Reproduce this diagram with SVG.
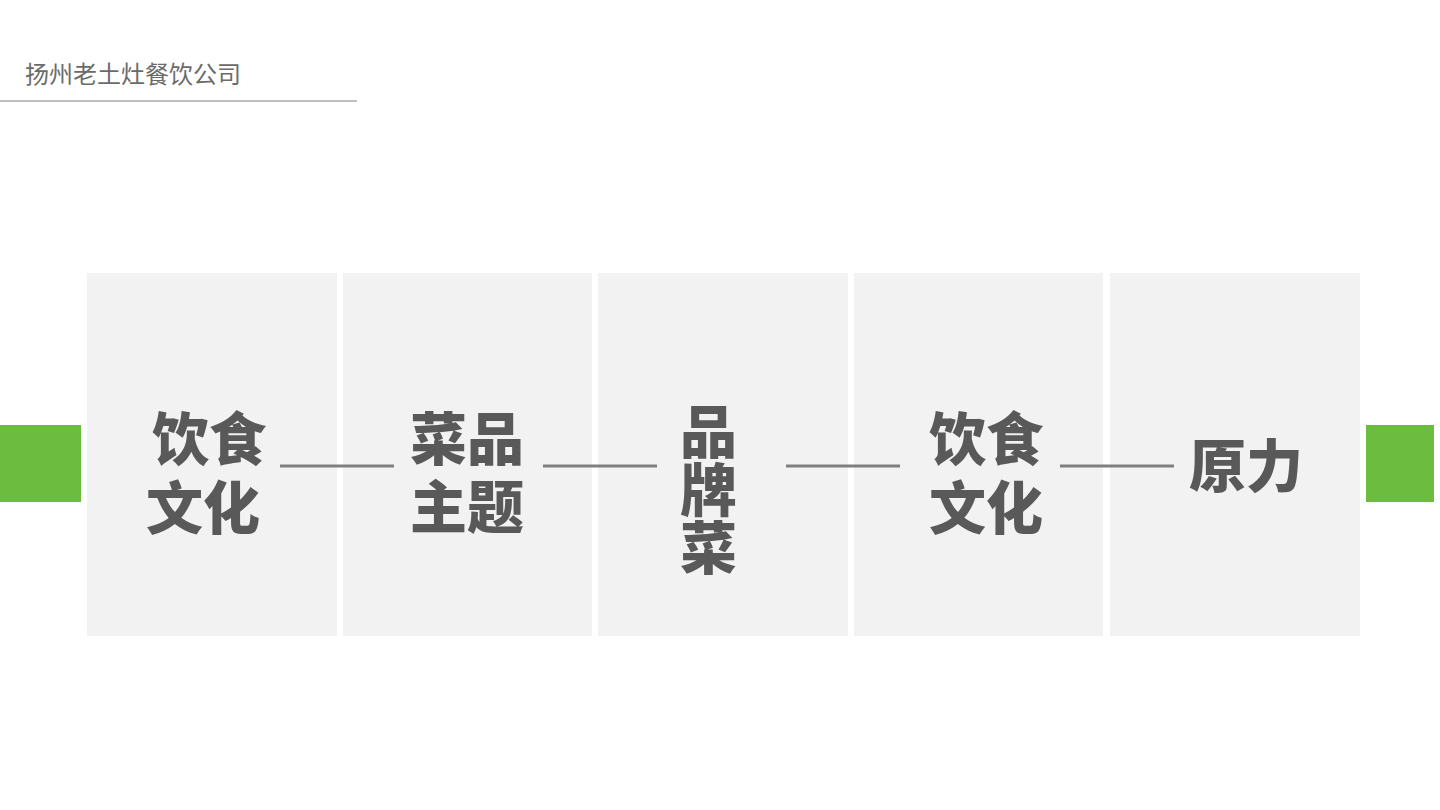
<svg xmlns="http://www.w3.org/2000/svg" width="1440" height="810" viewBox="0 0 1440 810">
<style>
.panel{fill:#f2f2f2}
.green{fill:#6cbd3f}
.t{font-family:"Noto Sans CJK SC","Noto Sans CJK JP",sans-serif;font-weight:900;font-size:57px;fill:#595959}
.conn{stroke:#7f7f7f;stroke-width:3;fill:none}
.hdr{font-family:"Noto Sans CJK SC",sans-serif;font-size:24px;fill:#6b6b6b}
</style>
<rect width="1440" height="810" fill="#ffffff"/>
<g id="header">
<text class="hdr" x="25" y="83">扬州老土灶餐饮公司</text>
<line x1="0" y1="101" x2="357" y2="101" stroke="#bfbfbf" stroke-width="2"/>
</g>
<rect class="green" x="0" y="425" width="81" height="77"/>
<rect class="green" x="1366" y="425" width="68" height="77"/>
<g id="node1">
<rect class="panel" x="87" y="273" width="250" height="363"/>
<text class="t"><tspan x="152" y="460">饮食</tspan><tspan x="146" y="529">文化</tspan></text>
</g>
<g id="node2">
<rect class="panel" x="343" y="273" width="249" height="363"/>
<text class="t"><tspan x="410" y="460">菜品</tspan><tspan x="410" y="528">主题</tspan></text>
</g>
<g id="node3">
<rect class="panel" x="598" y="273" width="250" height="363"/>
<text class="t"><tspan x="680" y="453">品</tspan><tspan x="680" y="511">牌</tspan><tspan x="680" y="569">菜</tspan></text>
</g>
<g id="node4">
<rect class="panel" x="854" y="273" width="249" height="363"/>
<text class="t"><tspan x="929" y="460">饮食</tspan><tspan x="929" y="529">文化</tspan></text>
</g>
<g id="node5">
<rect class="panel" x="1110" y="273" width="250" height="363"/>
<text class="t" x="1189" y="487">原力</text>
</g>
<g id="connectors">
<line class="conn" x1="280" y1="466" x2="394" y2="466"/>
<line class="conn" x1="543" y1="466" x2="657" y2="466"/>
<line class="conn" x1="786" y1="466" x2="900" y2="466"/>
<line class="conn" x1="1060" y1="466" x2="1174" y2="466"/>
</g>
</svg>
